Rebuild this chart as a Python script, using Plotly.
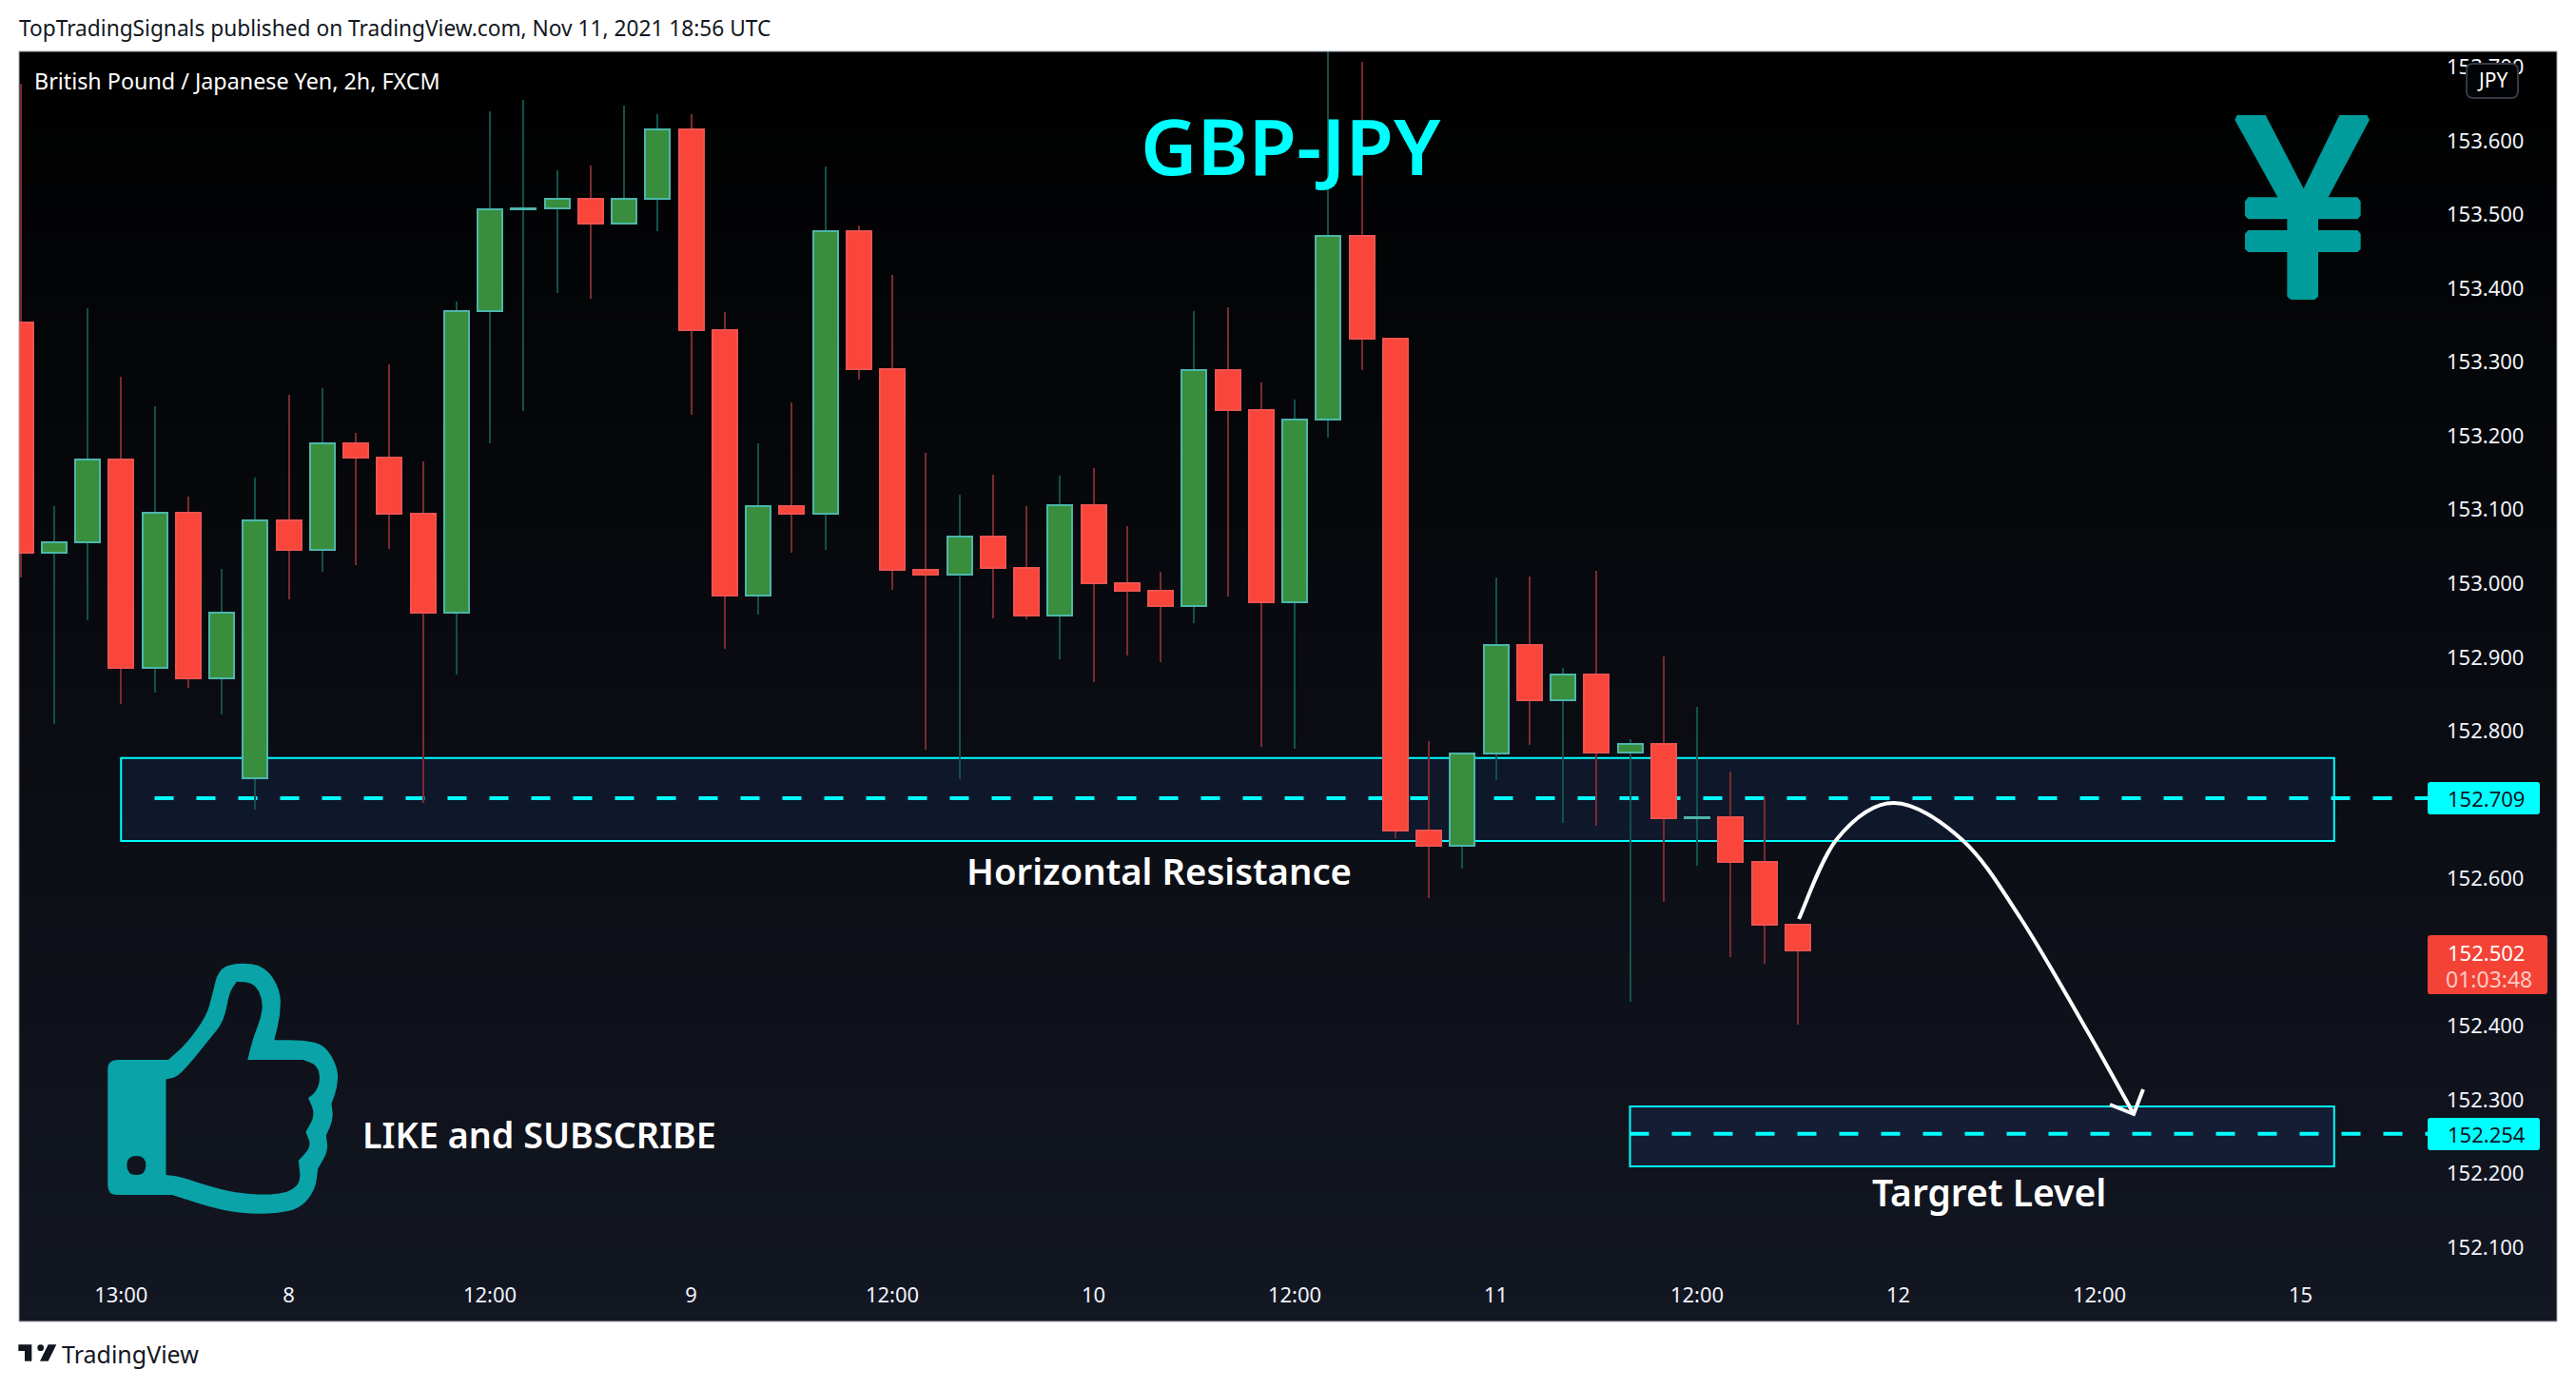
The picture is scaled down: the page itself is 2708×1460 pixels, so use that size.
import numpy as np
import plotly.graph_objects as go

# ---- data -----------------------------------------------------------------
opens = [153.354,153.042,153.056,153.168,152.885,153.096,152.872,152.736,153.085,153.046,
         153.190,153.170,153.094,152.961,153.369,153.507,153.508,153.521,153.488,153.521,
         153.615,153.343,152.984,153.105,153.095,153.477,153.291,153.019,153.012,153.064,
         153.021,152.957,153.106,153.000,152.990,152.969,153.289,153.235,152.975,153.222,
         153.471,153.332,152.665,152.644,152.769,152.917,152.842,152.877,152.771,152.783,
         152.682,152.683,152.622,152.537]
closes = [153.042,153.056,153.168,152.885,153.096,152.872,152.960,153.085,153.046,153.190,
          153.170,153.094,152.961,153.369,153.507,153.508,153.521,153.488,153.521,153.615,
          153.343,152.984,153.105,153.095,153.477,153.291,153.019,153.012,153.064,153.021,
          152.957,153.106,153.000,152.990,152.969,153.289,153.235,152.975,153.222,153.471,
          153.332,152.665,152.644,152.769,152.917,152.842,152.877,152.771,152.783,152.682,
          152.683,152.622,152.537,152.502]
highs = [153.677,153.105,153.373,153.280,153.240,153.118,153.020,153.143,153.256,153.265,
         153.204,153.297,153.165,153.382,153.640,153.655,153.560,153.566,153.648,153.636,
         153.636,153.368,153.190,153.245,153.565,153.485,153.418,153.177,153.120,153.147,
         153.105,153.146,153.156,153.078,153.016,153.369,153.374,153.272,153.249,153.760,
         153.707,153.332,152.786,152.769,153.008,153.009,152.886,153.017,152.789,152.901,
         152.833,152.745,152.712,152.537]
lows = [153.008,152.809,152.950,152.836,152.852,152.858,152.823,152.693,152.979,153.016,
        153.025,153.047,152.703,152.876,153.190,153.234,153.393,153.386,153.487,153.478,
        153.229,152.912,152.958,153.041,153.046,153.276,152.991,152.775,152.735,152.953,
        152.951,152.897,152.866,152.902,152.893,152.946,152.982,152.779,152.776,153.198,
        153.289,152.655,152.574,152.614,152.734,152.781,152.675,152.672,152.433,152.569,
        152.618,152.493,152.485,152.402]

price_ticks = [152.1,152.2,152.3,152.4,152.5,152.6,152.7,152.8,152.9,153.0,
               153.1,153.2,153.3,153.4,153.5,153.6,153.7]
time_tick_bars = [3,8,14,20,26,32,38,44,50,56,62,68]
time_tick_text = ["13:00","8","12:00","9","12:00","10","12:00","11","12:00","12","12:00","15"]

resistance_zone = (152.651, 152.7635)
target_zone = (152.210, 152.291)
resistance_level = 152.709
target_level = 152.254
last_price = "152.502"
countdown = "01:03:48"

# ---- layout helpers --------------------------------------------------------
W, H = 2708, 1460
L, R, T, B = 20, 2688, 54, 1389
FONT = "Noto Sans"
def X(px): return (px - L) / (R - L)
def Y(py): return 1 - (py - T) / (B - T)
def poly(pts):
    return "M" + " L".join(f"{X(x):.5f},{Y(y):.5f}" for x, y in pts) + " Z"
def smooth(pts):
    """closed outline smoothed through mid-points; a doubled point stays a sharp corner"""
    p = [(X(x), Y(y)) for x, y in pts]
    n = len(p)
    mid = lambda a, b: ((a[0]+b[0])/2, (a[1]+b[1])/2)
    s = mid(p[-1], p[0])
    d = f"M{s[0]:.5f},{s[1]:.5f}"
    for i in range(n):
        m = mid(p[i], p[(i+1) % n])
        d += f" Q{p[i][0]:.5f},{p[i][1]:.5f} {m[0]:.5f},{m[1]:.5f}"
    return d + " Z"
def spline(pts):
    """open Catmull-Rom curve through the points"""
    p = [(X(x), Y(y)) for x, y in pts]
    d = f"M{p[0][0]:.5f},{p[0][1]:.5f}"
    for i in range(len(p)-1):
        p0 = p[max(i-1, 0)]; p1 = p[i]; p2 = p[i+1]; p3 = p[min(i+2, len(p)-1)]
        c1 = (p1[0]+(p2[0]-p0[0])/6, p1[1]+(p2[1]-p0[1])/6)
        c2 = (p2[0]-(p3[0]-p1[0])/6, p2[1]-(p3[1]-p1[1])/6)
        d += f" C{c1[0]:.5f},{c1[1]:.5f} {c2[0]:.5f},{c2[1]:.5f} {p2[0]:.5f},{p2[1]:.5f}"
    return d
def rrect(x0, y0, x1, y1, r):
    sx, sy = 1/(R-L), 1/(B-T)
    a, b, c, e = X(x0), Y(y0), X(x1), Y(y1)
    rx, ry = r*sx, r*sy
    return (f"M{a+rx:.5f},{b:.5f} L{c-rx:.5f},{b:.5f} Q{c:.5f},{b:.5f} {c:.5f},{b-ry:.5f} "
            f"L{c:.5f},{e+ry:.5f} Q{c:.5f},{e:.5f} {c-rx:.5f},{e:.5f} L{a+rx:.5f},{e:.5f} "
            f"Q{a:.5f},{e:.5f} {a:.5f},{e+ry:.5f} L{a:.5f},{b-ry:.5f} Q{a:.5f},{b:.5f} {a+rx:.5f},{b:.5f} Z")

o, c, h, l = map(np.array, (opens, closes, highs, lows))
bars = np.arange(len(o))
up = c >= o
GREEN, GREEN_EDGE, GREEN_WICK = "#388e3c", "#4db6ac", "#11514c"
RED, RED_EDGE, RED_WICK = "#f9453a", "#ef5350", "#7b2b2f"
CYAN = "#00ffff"
BAR_PX = 35.25
BAR0_PX = 21.5

fig = go.Figure()
fig.add_bar(x=bars, y=h - l, base=l, width=2 / BAR_PX,
            marker=dict(color=[GREEN_WICK if u else RED_WICK for u in up], line_width=0),
            hoverinfo="skip", showlegend=False, name="wick")
fig.add_bar(x=bars, y=np.abs(c - o), base=np.minimum(o, c), width=26 / BAR_PX,
            marker=dict(color=[GREEN if u else RED for u in up],
                        line=dict(color=[GREEN_EDGE if u else RED_EDGE for u in up], width=2)),
            showlegend=False, name="GBP/JPY 2h")

shapes = []
# panel gradient
N = 48
for k in range(N):
    f = (k + .5) / N
    col = f"rgb({round(19*f)},{round(23*f)},{round(34*f)})"
    shapes.append(dict(type="rect", xref="paper", yref="paper", x0=0, x1=1,
                       y1=1 - k / N, y0=1 - (k + 1) / N + (-0.001 if k < N-1 else 0),
                       fillcolor=col, line_width=0, layer="below"))
# zones
ZONE_FILL = "rgba(60,120,255,0.10)"
for x0, (y0, y1) in ((3, resistance_zone), (48, target_zone)):
    shapes.append(dict(type="rect", xref="x", yref="y", x0=x0, x1=69, y0=y0, y1=y1,
                       fillcolor=ZONE_FILL, line=dict(color=CYAN, width=2), layer="below"))
for x0, lv in ((4.0, resistance_level), (48, target_level)):
    shapes.append(dict(type="line", xref="x", yref="y", x0=x0, x1=71.8, y0=lv, y1=lv,
                       line=dict(color=CYAN, width=4, dash="20px,24px"), layer="below"))

# price tags
shapes.append(dict(type="path", path=rrect(2552, 822, 2670, 856, 3), xref="paper", yref="paper",
                   fillcolor=CYAN, line_width=0, layer="above"))
shapes.append(dict(type="path", path=rrect(2552, 1175, 2670, 1209, 3), xref="paper", yref="paper",
                   fillcolor=CYAN, line_width=0, layer="above"))
shapes.append(dict(type="path", path=rrect(2552, 983, 2678, 1045, 3), xref="paper", yref="paper",
                   fillcolor="#f44336", line_width=0, layer="above"))
# JPY badge
shapes.append(dict(type="path", path=rrect(2593, 67, 2647, 103, 7), xref="paper", yref="paper",
                   fillcolor="#020305", line=dict(color="#363a45", width=2), layer="above"))

# yen icon
yen = [(155,243),(245,243),(365,475),(478,243),(565,243),(573,258),(443,502),(535,502),(545,515),
       (545,560),(535,571),(411,571),(411,606),(535,606),(545,617),(545,665),(535,675),(411,675),
       (411,815),(400,825),(325,825),(313,815),(313,675),(190,675),(180,665),(180,617),(190,606),
       (313,606),(313,571),(190,571),(180,560),(180,515),(190,502),(283,502),(148,258)]
shapes.append(dict(type="path", xref="paper", yref="paper", fillcolor="#009b9b", line_width=0,
                   layer="above", path=poly([(2300 + a/3, 40 + b/3) for a, b in yen])))

# thumb icon
tx = lambda a: a / 1.96
ty = lambda b: 980 + b / 3
outer = [(222,462),(222,462),(222,402),(262,402),(262,402),(347,402),(347,402),(385,350),(425,265),(437,200),
         (450,115),(490,95),(545,105),(578,180),(578,260),(565,340),(565,340),(625,340),(670,355),(697,430),
         (695,490),(683,540),(683,540),(687,590),(672,640),(672,640),(676,690),(655,745),(655,745),(650,810),
         (620,870),(570,887),(500,887),(440,870),(355,828),(355,828),(262,828),(262,828),(222,828),(222,768),
         (222,768)]
inner = [(342,463),(342,463),(362,458),(385,425),(430,340),(462,280),(472,190),(488,155),(488,155),(525,160),
         (542,215),(538,270),(522,330),(510,402),(510,402),(625,402),(625,402),(655,420),(660,470),(650,505),
         (635,522),(635,522),(650,575),(630,630),(630,630),(642,675),(615,720),(615,720),(620,785),(600,815),
         (565,828),(500,825),(440,805),(370,770),(342,765),(342,765)]
d = smooth([(tx(a), ty(b)) for a, b in outer]) + " " + smooth([(tx(a), ty(b)) for a, b in inner])
cx, cy, rr = tx(281), ty(735), 10
d += (f" M{X(cx-rr):.5f},{Y(cy):.5f} Q{X(cx-rr):.5f},{Y(cy-rr):.5f} {X(cx):.5f},{Y(cy-rr):.5f}"
      f" Q{X(cx+rr):.5f},{Y(cy-rr):.5f} {X(cx+rr):.5f},{Y(cy):.5f}"
      f" Q{X(cx+rr):.5f},{Y(cy+rr):.5f} {X(cx):.5f},{Y(cy+rr):.5f}"
      f" Q{X(cx-rr):.5f},{Y(cy+rr):.5f} {X(cx-rr):.5f},{Y(cy):.5f} Z")
shapes.append(dict(type="path", xref="paper", yref="paper", fillcolor="#09a3a8", line_width=0,
                   layer="above", path=d))

# forecast arrow
curve = [(1891,966),(1931,882),(1991,844),(2063,883),(2124,965),(2195,1085),(2243,1171)]
shapes.append(dict(type="path", xref="paper", yref="paper", layer="above",
                   line=dict(color="white", width=4), path=spline(curve)))
shapes.append(dict(type="path", xref="paper", yref="paper", layer="above",
                   line=dict(color="white", width=4),
                   path=f"M{X(2218):.5f},{Y(1161):.5f} L{X(2243):.5f},{Y(1171):.5f} L{X(2253):.5f},{Y(1145):.5f}"))

# panel border
shapes.append(dict(type="rect", xref="paper", yref="paper", x0=0, x1=1, y0=0, y1=1,
                   line=dict(color="#a9acb5", width=1), layer="above"))

# TradingView logo
lx = lambda a: 16 + a / 3
ly = lambda b: 1404 + b / 3
for pts in ([(10,28),(52,28),(52,80),(30,80),(30,48),(10,48)],
            [(130,28),(104,80),(78,80),(104,28)]):
    shapes.append(dict(type="path", xref="paper", yref="paper", fillcolor="#131722", line_width=0,
                       layer="above", path=poly([(lx(a), ly(b)) for a, b in pts])))
shapes.append(dict(type="circle", xref="paper", yref="paper", fillcolor="#131722", line_width=0,
                   layer="above", x0=X(lx(70)), x1=X(lx(90)), y0=Y(ly(48)), y1=Y(ly(28))))

def txt(s, x, y, size, color="#ffffff", anchor="left", weight=None):
    f = dict(family=FONT, size=size, color=color)
    if weight: f["weight"] = weight
    return dict(text=s, x=X(x), y=Y(y), xref="paper", yref="paper", showarrow=False,
                xanchor=anchor, yanchor="middle", font=f, borderpad=0, borderwidth=0)

annotations = [
    txt("TopTradingSignals published on TradingView.com, Nov 11, 2021 18:56 UTC", 20, 30, 22.7, "#131722"),
    txt("British Pound / Japanese Yen, 2h, FXCM", 36, 85, 23.3),
    txt("GBP-JPY", 1357, 152, 82, CYAN, "center", 600),
    txt("Horizontal Resistance", 1218, 915, 38.3, "#ffffff", "center", 600),
    txt("Targret Level", 2091, 1252, 39, "#ffffff", "center", 600),
    txt("LIKE and SUBSCRIBE", 567, 1192, 37.7, "#ffffff", "center", 600),
    txt("JPY", 2620, 84, 21, "#ffffff", "center"),
    txt(f"{resistance_level:.3f}", 2573, 839, 22, "#131722"),
    txt(f"{target_level:.3f}", 2573, 1192, 22, "#131722"),
    txt(last_price, 2573, 1001, 22, "#ffffff"),
    txt(countdown, 2571, 1029, 23, "#ffc9c5"),
    txt("TradingView", 65, 1423, 25, "#131722"),
]

fig.update_layout(
    width=W, height=H, margin=dict(l=L, r=W - R, t=T, b=H - B, pad=0),
    paper_bgcolor="white", plot_bgcolor="#000000", barmode="overlay",
    showlegend=False, shapes=shapes, annotations=annotations, bargap=0,
    font=dict(family=FONT, size=22, color="#ffffff"),
    xaxis=dict(range=[(L - BAR0_PX) / BAR_PX, (R - BAR0_PX) / BAR_PX], tickmode="array",
               tickvals=time_tick_bars, ticktext=time_tick_text, showgrid=False, zeroline=False,
               showline=False, ticks="", anchor="free", position=(B - 1346) / (B - T),
               tickfont=dict(family=FONT, size=22, color="#f0f3fa"), fixedrange=True),
    yaxis=dict(range=[153.7908 - 0.0012895 * B, 153.7908 - 0.0012895 * T], tickmode="array",
               tickvals=price_ticks, ticktext=[f"{v:.3f}" for v in price_ticks],
               showgrid=False, zeroline=False, showline=False, ticks="", side="right",
               anchor="free", position=X(2571),
               tickfont=dict(family=FONT, size=22, color="#f0f3fa"), fixedrange=True),
)
fig.write_html("out.html", config=dict(displayModeBar=False),
               post_script="document.body.style.margin='0';document.body.style.overflow='hidden';")
